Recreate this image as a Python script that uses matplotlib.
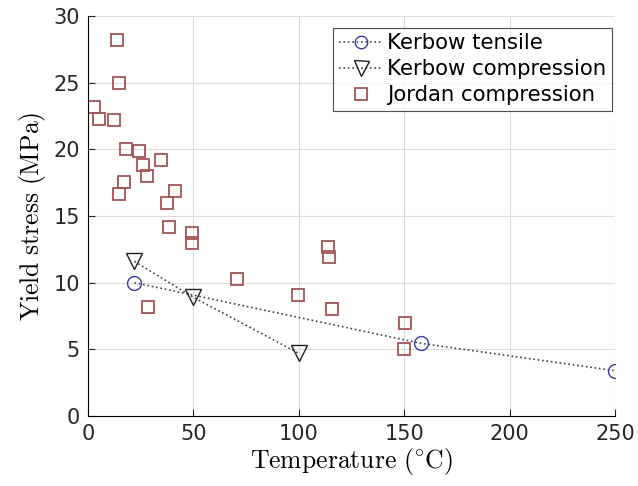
import matplotlib
matplotlib.use('Agg')
import matplotlib.pyplot as plt

# ================================
# Data
# ================================
tensile_T = [22, 158, 250]
tensile_s = [10.0, 5.45, 3.4]

comp_T = [22, 50, 100]
comp_s = [11.6, 8.9, 4.7]

jordan_T = [3.0, 5.3, 12.4, 13.5, 14.8, 14.8, 17.1, 18.1, 24.2, 26.3, 27.9,
            34.8, 37.4, 41.4, 38.3, 49.5, 49.5, 28.5, 70.8, 99.8, 113.7,
            114.2, 115.7, 150.4, 150.0]
jordan_s = [23.2, 22.3, 22.2, 28.2, 25.0, 16.65, 17.55, 20.0, 19.85, 18.85, 18.0,
            19.2, 15.95, 16.9, 14.2, 13.75, 13.0, 8.15, 10.3, 9.05, 12.7,
            11.9, 8.0, 7.0, 5.0]

xticks = [0, 50, 100, 150, 200, 250]
yticks = [0, 5, 10, 15, 20, 25, 30]

# ================================
# Plot
# ================================
plt.rcParams['mathtext.fontset'] = 'cm'
plt.rcParams['font.family'] = 'DejaVu Sans'

fig = plt.figure(figsize=(6.38, 4.86), dpi=100)
ax = fig.add_axes([0.138, 0.144, 0.826, 0.823])

line_col = '#404050'
ax.plot(tensile_T, tensile_s, linestyle=':', color=line_col, lw=1.2,
        marker='o', markersize=10, markerfacecolor='none',
        markeredgecolor='#3c3ca0', markeredgewidth=1.0, label='Kerbow tensile')
ax.plot(comp_T, comp_s, linestyle=':', color=line_col, lw=1.2,
        marker='v', markersize=12, markerfacecolor='none',
        markeredgecolor='#202020', markeredgewidth=1.0, label='Kerbow compression')
ax.plot(jordan_T, jordan_s, linestyle='none',
        marker='s', markersize=9, markerfacecolor='none',
        markeredgecolor='#a05555', markeredgewidth=1.3, label='Jordan compression')

ax.set_xlim(0, 250)
ax.set_ylim(0, 30)
ax.set_xticks(xticks)
ax.set_yticks(yticks)
ax.tick_params(direction='in', labelsize=15, length=5, colors='#262626', pad=6)
ax.grid(True, color='#dcdcdc', lw=0.8)
ax.set_axisbelow(True)
for s in ['top', 'right']:
    ax.spines[s].set_visible(False)

ax.set_xlabel(r'$\mathrm{Temperature\ (^{\circ}C)}$', fontsize=18.5, labelpad=1)
ax.set_ylabel(r'$\mathrm{Yield\ stress\ (MPa)}$', fontsize=18.5, labelpad=4)

leg = ax.legend(loc='upper right', bbox_to_anchor=(0.994, 0.97), fontsize=15.3,
                frameon=True, fancybox=False, borderaxespad=0.0,
                handlelength=2.1, handletextpad=0.2,
                labelspacing=0.28, borderpad=0.25, markerscale=0.9)
leg.get_frame().set_edgecolor('#202020')
leg.get_frame().set_linewidth(0.8)

fig.savefig('out.png', dpi=100)
